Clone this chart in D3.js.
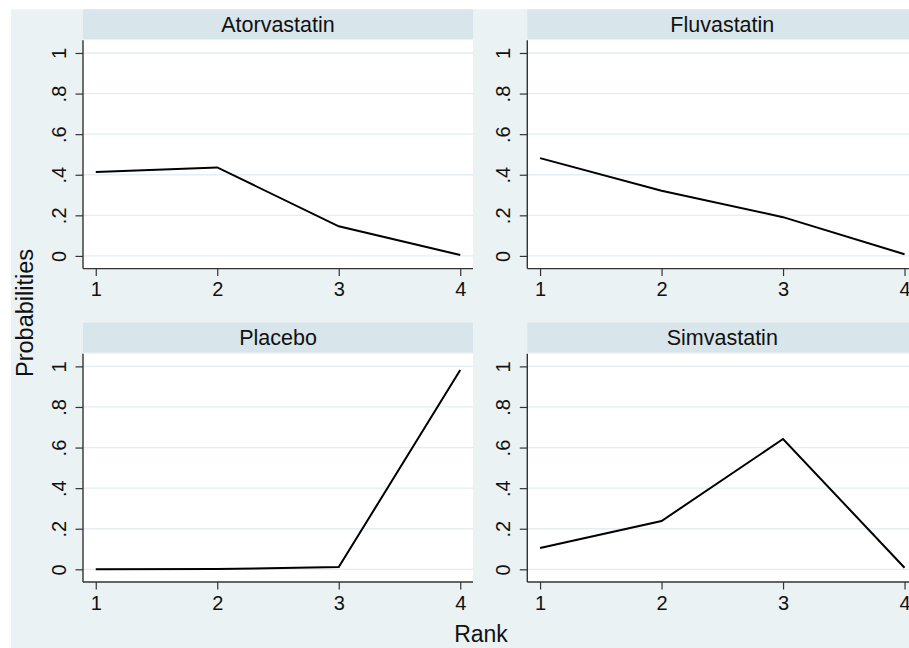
<!DOCTYPE html>
<html>
<head>
<meta charset="utf-8">
<script src="https://cdn.jsdelivr.net/npm/d3@7"></script>
<style>
  body { margin: 0; background: #fff; }
  svg { display: block; font-family: "Liberation Sans", Arial, sans-serif; }
</style>
</head>
<body>
<svg id="chart" width="909" height="648"></svg>
<script>
// rank probabilities per treatment
var ranks = [1, 2, 3, 4];
var treatments = ["Atorvastatin", "Fluvastatin", "Placebo", "Simvastatin"];
var atorvastatin = [0.413, 0.436, 0.146, 0.005];
var fluvastatin = [0.482, 0.321, 0.191, 0.008];
var placebo = [0.000, 0.001, 0.011, 0.982];
var simvastatin = [0.105, 0.238, 0.642, 0.008];
var yTicks = [0, 0.2, 0.4, 0.6, 0.8, 1];
var yTickLabels = ["0", ".2", ".4", ".6", ".8", "1"];

var series = [atorvastatin, fluvastatin, placebo, simvastatin];

var svg = d3.select("#chart");

// 外层浅色背景
svg.append("rect")
  .attr("x", 11).attr("y", 9.3)
  .attr("width", 909 - 11).attr("height", 648 - 9.3)
  .attr("fill", "#eaf2f3");

var colX = [83, 527.3];      // left edge of plot area for each column
var rowY = [9.3, 322.7];     // top of header strip for each row
var plotW = 390;
var stripH = 29.7;
var plotH = 228.3;

treatments.forEach(function (name, i) {
  var col = i % 2, row = Math.floor(i / 2);
  var x0 = colX[col];
  var top = rowY[row];
  var plotTop = top + stripH + 1.3;

  var g = svg.append("g").attr("transform", "translate(" + x0 + "," + plotTop + ")");

  var x = d3.scaleLinear().domain([0.895, 4.105]).range([0, plotW]);
  var y = d3.scaleLinear().domain([-0.0625, 1.0625]).range([plotH, 0]);

  // header strip
  svg.append("rect")
    .attr("x", x0).attr("y", top)
    .attr("width", plotW).attr("height", stripH)
    .attr("fill", "#d8e5ea");
  svg.append("text")
    .attr("x", x0 + plotW / 2).attr("y", top + 22.5)
    .attr("text-anchor", "middle")
    .style("font-size", "21.5px")
    .attr("fill", "#111")
    .text(name);

  // plot region
  g.append("rect")
    .attr("width", plotW).attr("height", plotH)
    .attr("fill", "#fff");

  // gridlines
  g.selectAll(".grid")
    .data(yTicks)
    .enter().append("line")
    .attr("x1", 0).attr("x2", plotW)
    .attr("y1", function (d) { return y(d); })
    .attr("y2", function (d) { return y(d); })
    .attr("stroke", "#e4eef0")
    .attr("stroke-width", 1.3);

  // y axis
  var yAxis = g.append("g")
    .call(d3.axisLeft(y).tickValues(yTicks).tickSize(7.5).tickPadding(10)
      .tickFormat(function (d, k) { return yTickLabels[k]; }));
  yAxis.select(".domain").attr("d", "M0,0V" + plotH).attr("stroke", "#333").attr("stroke-width", 1.4);
  yAxis.selectAll(".tick line").attr("stroke", "#333").attr("stroke-width", 1.2);
  yAxis.selectAll(".tick text")
    .attr("x", null).attr("dy", null)
    .attr("text-anchor", "middle")
    .attr("transform", "translate(-17.5,0) rotate(-90)")
    .attr("fill", "#111")
    .style("font-size", "20px");

  // x axis
  var xAxis = g.append("g")
    .attr("transform", "translate(0," + plotH + ")")
    .call(d3.axisBottom(x).tickValues(ranks).tickSize(7.5).tickPadding(6)
      .tickFormat(d3.format("d")));
  xAxis.select(".domain").attr("d", "M0,0H" + plotW).attr("stroke", "#333").attr("stroke-width", 1.4);
  xAxis.selectAll(".tick line").attr("stroke", "#333").attr("stroke-width", 1.2);
  xAxis.selectAll(".tick text")
    .attr("fill", "#111")
    .style("font-size", "20px");

  // data line
  var line = d3.line()
    .x(function (d, k) { return x(ranks[k]); })
    .y(function (d) { return y(d); });
  g.append("path")
    .datum(series[i])
    .attr("d", line)
    .attr("fill", "none")
    .attr("stroke", "#000")
    .attr("stroke-width", 2);
});

// axis titles
svg.append("text")
  .attr("transform", "translate(33,313) rotate(-90)")
  .attr("text-anchor", "middle")
  .style("font-size", "23.5px")
  .attr("fill", "#111")
  .text("Probabilities");

svg.append("text")
  .attr("x", 481).attr("y", 642)
  .attr("text-anchor", "middle")
  .style("font-size", "23px")
  .attr("fill", "#111")
  .text("Rank");
</script>
</body>
</html>
